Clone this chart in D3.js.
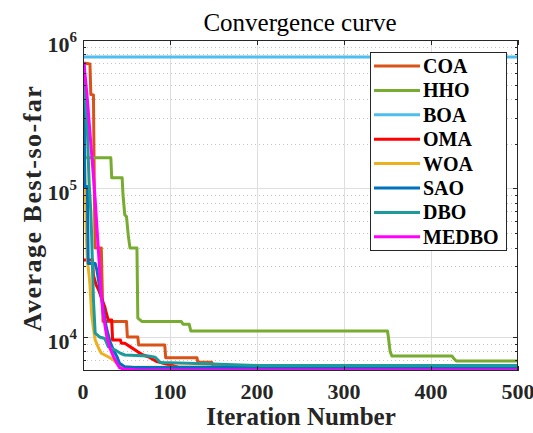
<!DOCTYPE html>
<html>
<head>
<meta charset="utf-8">
<script src="https://cdn.jsdelivr.net/npm/d3@7"></script>
<style>
  body { margin: 0; background: #fff; }
  svg { display: block; }
</style>
</head>
<body>
<svg id="chart" width="533" height="433"></svg>
<script>
// Iteration ticks along the x axis and decade ticks on the log y axis
const iterTicks = [0, 100, 200, 300, 400, 500];
const decadeTicks = [1e4, 1e5, 1e6];

const names = ["COA", "HHO", "BOA", "OMA", "WOA", "SAO", "DBO", "MEDBO"];
const colors = ["#D95319", "#77AC30", "#4DBEEE", "#FF0000", "#EDB120", "#0072BD", "#1F9A9A", "#FF00FF"];

// Average best-so-far fitness per algorithm, as [iteration, value] breakpoints
const COA = [[1,700000],[8,689000],[9,430000],[12,427000],[13,100000],[14,39800],[21,39800],[23,12700],[50,12700],[51,10000],[63,10000],[64,8830],[94,8830],[95,7250],[131,7250],[132,6750],[148,6750],[150,6300],[500,6300]];
const HHO = [[1,690000],[2,161000],[32,161000],[33,118000],[45,118000],[46,90400],[48,66400],[50,64600],[52,48500],[54,39800],[62,39800],[63,13400],[68,12700],[113,12700],[115,12200],[122,12200],[124,10960],[350,10960],[351,10000],[353,8000],[355,7450],[424,7450],[426,7200],[429,6890],[500,6890]];
const BOA = [[1,768000],[500,768000]];
const OMA = [[1,33000],[11,33000],[12,26000],[15,22500],[18,20700],[22,17800],[25,16000],[26,15100],[29,13000],[33,13000],[34,9550],[43,9550],[44,9080],[48,9080],[54,8610],[63,7940],[69,7560],[75,7360],[85,6820],[100,6470],[110,6250],[500,6250]];
const WOA = [[1,310000],[2,150000],[3,80000],[4,45000],[5,33000],[7,26000],[8,22400],[10,14100],[12,11400],[14,9550],[18,8400],[21,7770],[30,7300],[35,7000],[41,6470],[46,6250],[500,6230]];
const SAO = [[1,700000],[2,103000],[5,103000],[6,31300],[14,31300],[16,28200],[19,21800],[23,16000],[25,13400],[27,11450],[31,9300],[35,8170],[39,7370],[42,6650],[48,6310],[58,6220],[500,6220]];
const DBO = [[1,700000],[3,400000],[5,250000],[7,110000],[9,70000],[10,47000],[12,17800],[14,10600],[19,10000],[25,9770],[29,8610],[37,8170],[43,7770],[48,7560],[75,7450],[83,7300],[89,6720],[140,6600],[200,6430],[500,6430]];
const MEDBO = [[1,710000],[5,400000],[9,200000],[12,120000],[14,84000],[16,55000],[18,36000],[20,23000],[21,19000],[23,14500],[27,10300],[31,8400],[35,7370],[39,6650],[42,6210],[46,6080],[60,6020],[120,6000],[500,5990]];

const seriesData = [COA, HHO, BOA, OMA, WOA, SAO, DBO, MEDBO];

const svg = d3.select("#chart");
const serif = "'Liberation Serif', 'Times New Roman', serif";
const axisColor = "#262626";

const plotL = 83, plotR = 518, plotT = 40, plotB = 371;
const x = d3.scaleLinear().domain([0, 500]).range([plotL, plotR]);
const y = d3.scaleLog().domain([5900, 1e6]).range([plotB, plotT]);

svg.append("rect").attr("width", 533).attr("height", 433).attr("fill", "#fff");

// Minor horizontal grid (dotted) for the log scale
const allY = y.ticks();
const minorY = allY.filter(v => !decadeTicks.includes(v));
const grid = svg.append("g");
grid.selectAll("line.minor").data(minorY).join("line")
  .attr("x1", plotL).attr("x2", plotR)
  .attr("y1", d => Math.round(y(d)) + 0.5).attr("y2", d => Math.round(y(d)) + 0.5)
  .attr("stroke", "#c4c4c4").attr("stroke-width", 1).attr("stroke-dasharray", "1,3");

// Major grid lines
grid.selectAll("line.majx").data(iterTicks.slice(1, -1)).join("line")
  .attr("x1", d => Math.round(x(d)) + 0.5).attr("x2", d => Math.round(x(d)) + 0.5)
  .attr("y1", plotT).attr("y2", plotB)
  .attr("stroke", "#dedede").attr("stroke-width", 1);
grid.selectAll("line.majy").data(decadeTicks.slice(0, -1)).join("line")
  .attr("x1", plotL).attr("x2", plotR)
  .attr("y1", d => Math.round(y(d)) + 0.5).attr("y2", d => Math.round(y(d)) + 0.5)
  .attr("stroke", "#dedede").attr("stroke-width", 1);

// Curves
svg.append("clipPath").attr("id", "plotClip")
  .append("rect").attr("x", plotL).attr("y", plotT).attr("width", plotR - plotL).attr("height", plotB - plotT);

const line = d3.line().x(d => x(d[0])).y(d => y(d[1]));
svg.append("g").attr("clip-path", "url(#plotClip)")
  .selectAll("path").data(seriesData).join("path")
  .attr("d", line)
  .attr("fill", "none")
  .attr("stroke", (d, i) => colors[i])
  .attr("stroke-width", 3)
  .attr("stroke-linejoin", "round");

// Axes box with inward ticks on all four sides
const frame = svg.append("g").attr("stroke", axisColor).attr("stroke-width", 1);
frame.append("rect").attr("x", plotL + 0.5).attr("y", plotT + 0.5)
  .attr("width", plotR - plotL - 1).attr("height", plotB - plotT - 1).attr("fill", "none");

iterTicks.forEach(t => {
  const px = Math.round(x(t)) + 0.5;
  frame.append("line").attr("x1", px).attr("x2", px).attr("y1", plotB).attr("y2", plotB - 5);
  frame.append("line").attr("x1", px).attr("x2", px).attr("y1", plotT).attr("y2", plotT + 5);
});
allY.forEach(t => {
  const py = Math.round(y(t)) + 0.5;
  const len = decadeTicks.includes(t) ? 5 : 3;
  frame.append("line").attr("x1", plotL).attr("x2", plotL + len).attr("y1", py).attr("y2", py);
  frame.append("line").attr("x1", plotR).attr("x2", plotR - len).attr("y1", py).attr("y2", py);
});

// Tick labels
svg.append("g").selectAll("text").data(iterTicks).join("text")
  .attr("x", d => x(d)).attr("y", 399)
  .attr("text-anchor", "middle")
  .attr("font-family", serif).attr("font-weight", "bold").attr("font-size", 22)
  .attr("fill", axisColor)
  .text(d => d);

const yl = svg.append("g").selectAll("text").data(decadeTicks).join("text")
  .attr("x", 77).attr("y", d => y(d) + 12)
  .attr("text-anchor", "end")
  .attr("font-family", serif).attr("font-weight", "bold").attr("font-size", 22)
  .attr("fill", axisColor);
yl.append("tspan").text("10");
yl.append("tspan").attr("dy", -10).attr("font-size", 15).text(d => Math.round(Math.log10(d)));

// Title and axis labels
svg.append("text").attr("x", 300).attr("y", 31).attr("text-anchor", "middle")
  .attr("font-family", serif).attr("font-size", 25).attr("fill", "#000")
  .text("Convergence curve");
svg.append("text").attr("x", 301).attr("y", 425).attr("text-anchor", "middle")
  .attr("font-family", serif).attr("font-weight", "bold").attr("font-size", 25).attr("fill", axisColor)
  .text("Iteration Number");
svg.append("text").attr("transform", "translate(41,208) rotate(-90)").attr("text-anchor", "middle")
  .attr("font-family", serif).attr("font-weight", "bold").attr("font-size", 26)
  .attr("letter-spacing", 1.5).attr("fill", axisColor)
  .text("Average Best-so-far");

// Legend
const lg = svg.append("g");
lg.append("rect").attr("x", 370.5).attr("y", 52.5).attr("width", 136).attr("height", 198)
  .attr("fill", "#fff").attr("stroke", axisColor).attr("stroke-width", 1);
const items = lg.selectAll("g.item").data(names).join("g")
  .attr("transform", (d, i) => `translate(0,${66 + i * 24.4})`);
items.append("line").attr("x1", 374).attr("x2", 420).attr("y1", 0).attr("y2", 0)
  .attr("stroke", (d, i) => colors[i]).attr("stroke-width", 3);
items.append("text").attr("x", 423).attr("y", 7)
  .attr("font-family", serif).attr("font-weight", "bold").attr("font-size", 20).attr("fill", "#000")
  .text(d => d);
</script>
</body>
</html>
